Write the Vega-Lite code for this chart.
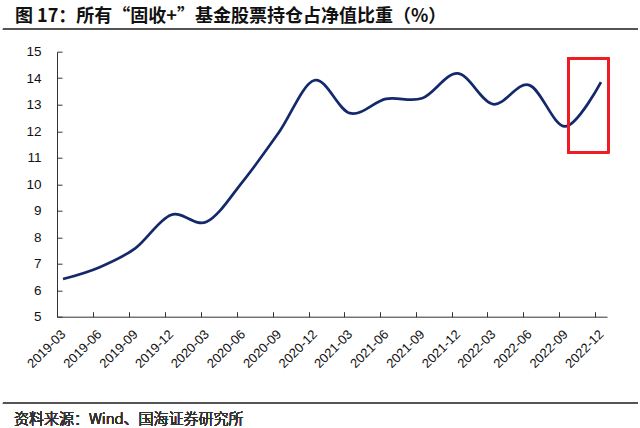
{
  "$schema": "https://vega.github.io/schema/vega-lite/v6.json",
  "width": 550,
  "height": 265,
  "autosize": {"type": "none"},
  "padding": {"left": 57, "top": 51.7, "right": 33, "bottom": 111.3},
  "background": "white",
  "config": {
    "view": {"stroke": null},
    "font": "Liberation Sans"
  },
  "title": {
    "text": "图 17：所有“固收+”基金股票持仓占净值比重（%）",
    "font": "Noto Sans CJK SC",
    "fontSize": 18,
    "fontWeight": "bold",
    "color": "#111111",
    "anchor": "start",
    "frame": "group",
    "dx": -42,
    "baseline": "bottom",
    "offset": -15
  },
  "resolve": {"axis": {"x": "independent", "y": "independent"}},
  "data": {
    "values": [
      {"period": "2019-03", "value": 6.42},
      {"period": "2019-06", "value": 6.86},
      {"period": "2019-09", "value": 7.58},
      {"period": "2019-12", "value": 8.84},
      {"period": "2020-03", "value": 8.58},
      {"period": "2020-06", "value": 10.1},
      {"period": "2020-09", "value": 11.95},
      {"period": "2020-12", "value": 13.92},
      {"period": "2021-03", "value": 12.68},
      {"period": "2021-06", "value": 13.22},
      {"period": "2021-09", "value": 13.24},
      {"period": "2021-12", "value": 14.18},
      {"period": "2022-03", "value": 13.02},
      {"period": "2022-06", "value": 13.74},
      {"period": "2022-09", "value": 12.18},
      {"period": "2022-12", "value": 13.85}
    ]
  },
  "layer": [
    {
      "mark": {"type": "line", "interpolate": "cardinal", "tension": 0, "color": "#14296b", "strokeWidth": 2.7},
      "encoding": {
        "x": {
          "field": "period",
          "type": "temporal",
          "scale": {
            "type": "utc",
            "domain": [
              {"year": 2019, "month": 2, "date": 13, "hours": 17, "utc": true},
              {"year": 2022, "month": 12, "date": 16, "hours": 7, "utc": true}
            ]
          },
          "axis": {
            "title": null,
            "values": [
              {"year": 2019, "month": 3, "date": 1, "utc": true},
              {"year": 2019, "month": 6, "date": 1, "utc": true},
              {"year": 2019, "month": 9, "date": 1, "utc": true},
              {"year": 2019, "month": 12, "date": 1, "utc": true},
              {"year": 2020, "month": 3, "date": 1, "utc": true},
              {"year": 2020, "month": 6, "date": 1, "utc": true},
              {"year": 2020, "month": 9, "date": 1, "utc": true},
              {"year": 2020, "month": 12, "date": 1, "utc": true},
              {"year": 2021, "month": 3, "date": 1, "utc": true},
              {"year": 2021, "month": 6, "date": 1, "utc": true},
              {"year": 2021, "month": 9, "date": 1, "utc": true},
              {"year": 2021, "month": 12, "date": 1, "utc": true},
              {"year": 2022, "month": 3, "date": 1, "utc": true},
              {"year": 2022, "month": 6, "date": 1, "utc": true},
              {"year": 2022, "month": 9, "date": 1, "utc": true},
              {"year": 2022, "month": 12, "date": 1, "utc": true}
            ],
            "labelExpr": "utcFormat(datum.value, '%Y-%m')",
            "labelAngle": -45,
            "labelAlign": "right",
            "labelBaseline": "middle",
            "labelFont": "Liberation Sans",
            "labelFontSize": 13,
            "labelColor": "#111111",
            "labelPadding": 20,
            "labelOffset": 6,
            "tickOffset": -6,
            "tickSize": -5,
            "tickColor": "#333333",
            "domainColor": "#333333",
            "grid": false,
            "labelOverlap": false,
            "labelFlush": false
          }
        },
        "y": {
          "field": "value",
          "type": "quantitative",
          "scale": {"domain": [5, 15], "nice": false, "zero": false},
          "axis": {
            "title": null,
            "values": [5, 6, 7, 8, 9, 10, 11, 12, 13, 14, 15],
            "labelFont": "Liberation Sans",
            "labelFontSize": 13.5,
            "labelColor": "#111111",
            "labelPadding": 21,
            "tickSize": -5,
            "tickColor": "#333333",
            "domainColor": "#333333",
            "grid": false,
            "labelFlush": false
          }
        }
      }
    },
    {
      "mark": {"type": "rect", "fill": null, "fillOpacity": 0, "stroke": "#ee1c25", "strokeWidth": 1.8},
      "encoding": {
        "x": {"datum": {"year": 2022, "month": 9, "date": 8, "hours": 17, "utc": true}, "type": "temporal", "axis": null},
        "x2": {"datum": {"year": 2022, "month": 12, "date": 19, "hours": 14, "utc": true}},
        "y": {"datum": 14.75, "type": "quantitative", "axis": null},
        "y2": {"datum": 11.2}
      }
    },
    {
      "mark": {"type": "rule", "color": "#555555", "strokeWidth": 1.3},
      "encoding": {
        "x": {"datum": {"year": 2018, "month": 9, "date": 29, "utc": true}, "type": "temporal", "axis": null},
        "x2": {"datum": {"year": 2023, "month": 3, "date": 5, "utc": true}},
        "y": {"datum": 15.84, "type": "quantitative", "axis": null}
      }
    },
    {
      "mark": {"type": "rule", "color": "#555555", "strokeWidth": 1.3},
      "encoding": {
        "x": {"datum": {"year": 2018, "month": 9, "date": 29, "utc": true}, "type": "temporal", "axis": null},
        "x2": {"datum": {"year": 2023, "month": 3, "date": 5, "utc": true}},
        "y": {"datum": 1.73, "type": "quantitative", "axis": null}
      }
    },
    {
      "mark": {"type": "text", "text": "资料来源：Wind、国海证券研究所", "align": "left", "baseline": "middle", "font": "Noto Sans CJK SC", "fontSize": 15, "fontWeight": 300, "color": "#333333"},
      "encoding": {
        "x": {"datum": {"year": 2018, "month": 10, "date": 27, "utc": true}, "type": "temporal", "axis": null},
        "y": {"datum": 1.14, "type": "quantitative", "axis": null}
      }
    }
  ]
}
